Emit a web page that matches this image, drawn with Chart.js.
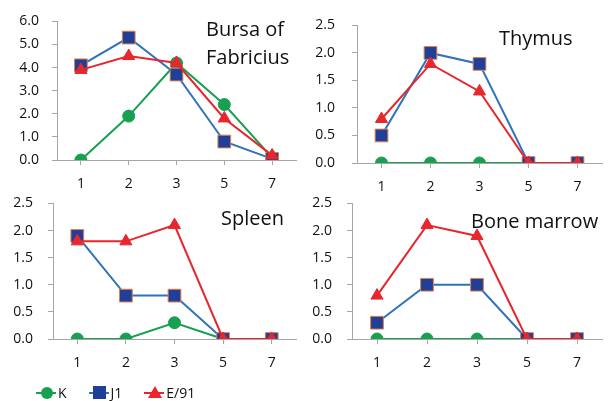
<!DOCTYPE html>
<html>
<head>
<meta charset="utf-8">
<script src="https://cdn.jsdelivr.net/npm/chart.js@4"></script>
<style>
  body { margin: 0; background: #fff; font-family: "Open Sans", sans-serif; }
  #wrap { position: relative; width: 613px; height: 401px; overflow: hidden; }
  canvas { position: absolute; }
  .title { position: absolute; font-size: 20px; line-height: 28px; color: #111; white-space: nowrap; }
  #legend { position: absolute; left: 36px; top: 383px; font-size: 14px; color: #111; display: flex; }
  .item { display: flex; align-items: center; margin-right: 22px; }
  .sample { position: relative; width: 20px; height: 16px; margin-right: 2px; }
  .sample .ln { position: absolute; left: 0; right: 0; top: 7px; height: 2px; }
  .sample .mk { position: absolute; }
</style>
</head>
<body>
<div id="wrap">
  <canvas id="bursa" style="left:0;top:0"></canvas>
  <canvas id="thymus" style="left:300px;top:0"></canvas>
  <canvas id="spleen" style="left:0;top:180px"></canvas>
  <canvas id="marrow" style="left:300px;top:180px"></canvas>
  <div class="title" style="left:206px;top:15px">Bursa of<br>Fabricius</div>
  <div class="title" style="left:499px;top:24px">Thymus</div>
  <div class="title" style="left:221px;top:204px">Spleen</div>
  <div class="title" style="left:471px;top:207px">Bone marrow</div>
  <div id="legend"></div>
</div>
<script>
const days = ["1", "2", "3", "5", "7"];
const seriesNames = ["K", "J1", "E/91"];

const bursaK = [0, 1.9, 4.2, 2.4, 0.1];
const bursaJ1 = [4.1, 5.3, 3.7, 0.8, 0.05];
const bursaE91 = [3.9, 4.5, 4.2, 1.8, 0.2];

const thymusK = [0, 0, 0, 0, 0];
const thymusJ1 = [0.5, 2.0, 1.8, 0, 0];
const thymusE91 = [0.8, 1.8, 1.3, 0, 0];

const spleenK = [0, 0, 0.3, 0, 0];
const spleenJ1 = [1.9, 0.8, 0.8, 0, 0];
const spleenE91 = [1.8, 1.8, 2.1, 0, 0];

const marrowK = [0, 0, 0, 0, 0];
const marrowJ1 = [0.3, 1.0, 1.0, 0, 0];
const marrowE91 = [0.8, 2.1, 1.9, 0, 0];

const GREEN = "#17a04f";
const BLUE_LINE = "#2f73b8";
const BLUE_MARK = "#1f3f98";
const RED = "#e8262d";
const AXIS = "#a6a6a6";

function makePanel(id, k, j1, e91, box) {
  const canvas = document.getElementById(id);
  canvas.width = box.w;
  canvas.height = box.h;
  canvas.style.width = box.w + "px";
  canvas.style.height = box.h + "px";

  return new Chart(canvas.getContext("2d"), {
    type: "line",
    data: {
      labels: days,
      datasets: [
        {
          label: seriesNames[0], data: k,
          borderColor: GREEN, backgroundColor: GREEN, borderWidth: 2,
          pointStyle: "circle", pointRadius: 6, pointBorderWidth: 1,
          pointBorderColor: GREEN, order: 3,
        },
        {
          label: seriesNames[1], data: j1,
          borderColor: BLUE_LINE, backgroundColor: BLUE_MARK, borderWidth: 2,
          pointStyle: "rect", pointRadius: 9, pointBorderWidth: 1,
          pointBorderColor: "#e0804a", order: 2,
        },
        {
          label: seriesNames[2], data: e91,
          borderColor: RED, backgroundColor: RED, borderWidth: 2,
          pointStyle: "triangle", pointRadius: 7, pointBorderWidth: 1,
          pointBorderColor: RED, order: 1,
        },
      ],
    },
    options: {
      responsive: false,
      animation: false,
      layout: { padding: { top: box.top, right: box.right, left: 0, bottom: 0 } },
      plugins: { legend: { display: false }, tooltip: { enabled: false } },
      scales: {
        x: {
          offset: true,
          grid: { drawOnChartArea: false, tickLength: 5, color: AXIS },
          border: { color: AXIS, width: 1 },
          ticks: { padding: 11, color: "#111", font: { family: "Open Sans", size: 14 } },
          afterFit: (s) => { s.height = box.xh; },
        },
        y: {
          min: 0,
          max: box.max,
          ticks: {
            stepSize: box.step, padding: box.tickPad, color: "#111",
            font: { family: "Open Sans", size: 14 },
            callback: (v) => Number(v).toFixed(1),
          },
          grid: { drawOnChartArea: false, tickLength: 5, color: AXIS },
          border: { color: AXIS, width: 1 },
          afterFit: (s) => { s.width = box.yw; },
        },
      },
    },
  });
}

makePanel("bursa", bursaK, bursaJ1, bursaE91,
  { w: 306, h: 196, top: 20, right: 2, yw: 57, xh: 36, max: 6, step: 1, tickPad: 13 });
makePanel("thymus", thymusK, thymusJ1, thymusE91,
  { w: 313, h: 199, top: 22, right: 11, yw: 57, xh: 36, max: 2.5, step: 0.5, tickPad: 17 });
makePanel("spleen", spleenK, spleenJ1, spleenE91,
  { w: 306, h: 195, top: 23, right: 1, yw: 53, xh: 36, max: 2.5, step: 0.5, tickPad: 15 });
makePanel("marrow", marrowK, marrowJ1, marrowE91,
  { w: 313, h: 195, top: 23, right: 11, yw: 52, xh: 36, max: 2.5, step: 0.5, tickPad: 15 });

// legend
const legendMarks = [
  { color: GREEN, line: GREEN, css: "left:5px;top:2px;width:12px;height:12px;border-radius:50%;" },
  { color: BLUE_MARK, line: BLUE_LINE, css: "left:4px;top:1px;width:13px;height:13px;" },
  { color: RED, line: RED, css: "left:4px;top:1px;width:0;height:0;border-left:7px solid transparent;border-right:7px solid transparent;border-bottom:12px solid " + RED + ";background:none;" },
];
const legend = document.getElementById("legend");
seriesNames.forEach((name, i) => {
  const m = legendMarks[i];
  const item = document.createElement("div");
  item.className = "item";
  item.innerHTML =
    '<div class="sample"><div class="ln" style="background:' + m.line + '"></div>' +
    '<div class="mk" style="background:' + m.color + ';' + m.css + '"></div></div>' +
    "<span>" + name + "</span>";
  legend.appendChild(item);
});
</script>
</body>
</html>
